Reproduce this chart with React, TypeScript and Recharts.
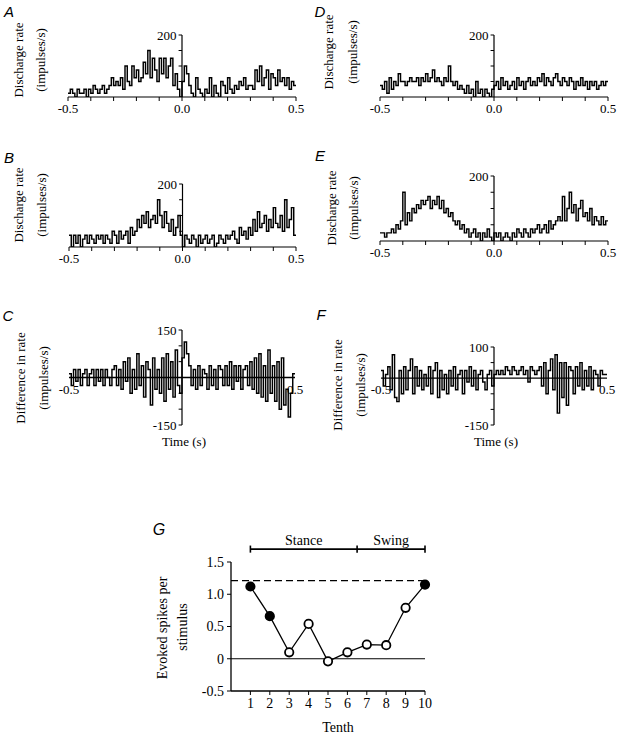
import React from "react";
import { LineChart, Line, XAxis, YAxis, ReferenceLine, ReferenceDot } from "recharts";

// 10 ms bins from -0.5 s to 0.5 s (bin start times)
const binStarts = Array.from({ length: 100 }, (_, i) => Math.round((-500 + i * 10)) / 1000);
const timeTicks = [-0.5, -0.4, -0.3, -0.2, -0.1, 0, 0.1, 0.2, 0.3, 0.4, 0.5];

// discharge rate (impulses/s), one value per bin
const rateA = [
  12, 25, 12, 0, 25, 12, 12, 25, 0, 25,
  12, 37, 25, 12, 25, 37, 12, 25, 37, 62,
  37, 50, 37, 62, 25, 100, 50, 37, 100, 62,
  87, 50, 62, 112, 75, 150, 62, 125, 87, 50,
  125, 75, 125, 62, 100, 125, 37, 75, 25, 0,
  50, 100, 75, 37, 12, 0, 62, 25, 12, 0,
  25, 12, 62, 0, 37, 12, 0, 50, 37, 12,
  62, 25, 12, 37, 25, 50, 37, 62, 25, 37,
  37, 25, 87, 50, 100, 37, 62, 87, 25, 75,
  62, 37, 87, 50, 62, 37, 62, 25, 50, 37,
];
const rateB = [
  37, 0, 37, 12, 37, 0, 25, 37, 12, 37,
  25, 12, 37, 25, 37, 12, 37, 25, 12, 50,
  37, 12, 50, 25, 37, 50, 12, 62, 37, 50,
  87, 62, 100, 75, 112, 62, 87, 100, 75, 150,
  100, 62, 112, 75, 50, 87, 37, 62, 100, 37,
  0, 37, 25, 12, 37, 25, 0, 37, 12, 25,
  37, 12, 25, 37, 0, 12, 37, 25, 12, 37,
  25, 37, 50, 25, 12, 62, 37, 50, 25, 62,
  37, 87, 50, 112, 62, 75, 100, 50, 87, 62,
  125, 75, 62, 100, 50, 150, 62, 87, 125, 37,
];
const rateD = [
  37, 25, 50, 12, 62, 25, 50, 37, 75, 50,
  50, 37, 50, 62, 50, 50, 62, 37, 62, 50,
  75, 50, 62, 87, 50, 62, 50, 37, 62, 50,
  100, 50, 37, 50, 25, 37, 25, 12, 37, 12,
  25, 0, 50, 12, 25, 0, 25, 12, 0, 25,
  37, 50, 25, 62, 37, 50, 25, 37, 50, 25,
  62, 37, 50, 25, 50, 62, 37, 50, 37, 62,
  50, 75, 37, 62, 50, 37, 62, 75, 50, 37,
  62, 50, 37, 62, 50, 25, 50, 37, 62, 37,
  50, 25, 50, 37, 50, 25, 37, 50, 37, 50,
];
const rateE = [
  25, 25, 12, 25, 25, 37, 25, 50, 37, 62,
  150, 50, 87, 62, 100, 87, 112, 100, 125, 112,
  125, 137, 100, 125, 112, 137, 100, 125, 87, 100,
  75, 87, 62, 50, 62, 37, 50, 25, 37, 12,
  25, 37, 12, 25, 0, 25, 12, 37, 12, 0,
  25, 12, 25, 0, 12, 25, 12, 0, 25, 12,
  37, 25, 12, 37, 25, 12, 37, 25, 37, 50,
  25, 37, 50, 25, 62, 37, 50, 62, 75, 62,
  137, 62, 100, 150, 87, 112, 62, 100, 125, 75,
  87, 62, 100, 50, 75, 62, 50, 75, 50, 62,
];
// difference in rate (impulses/s)
const diffC = [
  12, -25, 25, -12, 25, -25, 12, 25, -25, 12,
  25, -25, 25, -12, 25, -25, 25, 0, -25, 25,
  37, -25, 25, -37, 50, -12, 62, -50, 25, -37,
  75, -25, 37, -62, 50, 25, -87, 62, -37, 25,
  -50, 62, -75, 75, -37, 50, -62, 87, -25, -50,
  62, 112, 75, 37, -25, 25, -37, 37, -25, 25,
  12, -37, 37, -25, 25, -37, 37, 25, -25, 37,
  -25, 50, -37, 37, -12, 37, -37, 25, 37, -25,
  50, -37, 62, -50, 75, -62, 37, -75, 87, -50,
  37, -75, 50, -100, 62, -87, -37, -125, -50, 12,
];
const diffF = [
  25, -25, 12, 37, -37, 75, -62, -75, 25, -50,
  37, -37, 25, 62, -50, 37, -25, 25, -37, 12,
  -25, 37, -50, 25, 50, -62, 25, -37, 12, -50,
  25, -25, 37, -37, 12, 25, -50, 25, -12, 37,
  -25, 25, -37, 12, 25, -12, -37, 12, 25, -25,
  12, 25, 12, 25, 12, 37, 25, 12, 37, 25,
  12, 25, 37, 12, 25, -12, 37, 25, 12, 25,
  37, -25, 50, -50, 25, 62, -37, 75, -112, 50,
  -62, 50, -87, 37, 25, -50, 37, -25, 50, -37,
  25, -25, 37, -37, 25, 12, -25, 25, 12, 12,
];

// panel G
const tenths = [1, 2, 3, 4, 5, 6, 7, 8, 9, 10];
const evokedSpikes = [1.12, 0.66, 0.1, 0.54, -0.04, 0.1, 0.22, 0.21, 0.79, 1.15];
const significantTenths = [1, 2, 10];
const controlLevel = 1.21;
const phaseEdges = [1, 6.5, 10];
const phases = [
  { name: "Stance", mid: 3.75 },
  { name: "Swing", mid: 8.25 },
];

const SERIF = "'Liberation Serif', 'Times New Roman', serif";
const SANS = "'Liberation Sans', Arial, sans-serif";

const fmtTime = (v: number) => (v === -0.5 ? "-0.5" : v === 0 ? "0.0" : v === 0.5 ? "0.5" : "");

function Txt({ x, y, children, rotate, size = 13, italic, sans }: any) {
  return (
    <div
      style={{
        position: "absolute",
        left: x,
        top: y,
        transform: `translate(-50%, -50%)${rotate ? " rotate(-90deg)" : ""}`,
        whiteSpace: "nowrap",
        lineHeight: 1,
        fontSize: size,
        fontFamily: sans ? SANS : SERIF,
        fontStyle: italic ? "italic" : "normal",
        color: "#000",
      }}
    >
      {children}
    </div>
  );
}

type PanelProps = {
  values: number[];
  domain: [number, number];
  yTicks: number[];
  yLabels: number[];
  x0: number;
  plotW: number;
  yTop: number;
  plotH: number;
  diff?: boolean;
};

function Panel({ values, domain, yTicks, yLabels, x0, plotW, yTop, plotH, diff }: PanelProps) {
  const mL = 22, mR = 22, mT = 12, mB = diff ? 12 : 0, axH = diff ? 0 : 24;
  const data = binStarts.map((x, i) => ({ x, v: values[i] }));
  data.push({ x: 0.5, v: values[values.length - 1] });
  const lbl = { fontSize: 13, fontFamily: SERIF, fill: "#000" };
  return (
    <div style={{ position: "absolute", left: x0 - mL, top: yTop - mT }}>
      <LineChart width={plotW + mL + mR} height={plotH + mT + mB + axH} data={data} margin={{ top: mT, right: mR, bottom: mB, left: mL }}>
        <XAxis
          type="number"
          dataKey="x"
          domain={[-0.5, 0.5]}
          ticks={timeTicks}
          interval={0}
          tickFormatter={fmtTime}
          hide={diff}
          height={axH || 1}
          axisLine={{ stroke: "#000", strokeWidth: 1.2 }}
          tickLine={{ stroke: "#000", strokeWidth: 1 }}
          tickSize={4}
          tickMargin={3}
          tick={lbl}
          allowDataOverflow
        />
        <YAxis type="number" domain={domain} hide allowDataOverflow />
        {diff && <ReferenceLine y={0} stroke="#000" strokeWidth={1.3} />}
        <ReferenceLine segment={[{ x: 0, y: domain[0] }, { x: 0, y: domain[1] }]} stroke="#000" strokeWidth={1.2} />
        {yTicks.map((v) => (
          <ReferenceLine key={"t" + v} segment={[{ x: 0, y: v }, { x: -0.015, y: v }]} stroke="#000" strokeWidth={1} />
        ))}
        {yLabels.map((v) => (
          <ReferenceDot key={"l" + v} x={-0.015} y={v} r={0} fill="none" stroke="none" label={{ value: String(v), position: "left", offset: 2, ...lbl }} />
        ))}
        {diff &&
          [-0.5, 0.5].map((v) => (
            <ReferenceDot key={"e" + v} x={v} y={0} r={0} fill="none" stroke="none" label={{ value: v.toFixed(1), position: "bottom", offset: 7, ...lbl }} />
          ))}
        <Line type="stepAfter" dataKey="v" stroke="#000" strokeWidth={1.45} dot={false} isAnimationActive={false} />
      </LineChart>
    </div>
  );
}

function SpikeDot(props: any) {
  const { cx, cy, payload } = props;
  if (cx == null || cy == null) return null;
  const filled = significantTenths.includes(payload.t);
  return <circle cx={cx} cy={cy} r={4.2} fill={filled ? "#000" : "#fff"} stroke="#000" strokeWidth={1.8} />;
}

function PanelG() {
  const data = tenths.map((t, i) => ({ t, e: evokedSpikes[i] }));
  const yW = 42, mT = 34, mR = 12, axH = 26;
  const plotW = 194, plotH = 129;
  const lbl = { fontSize: 14, fontFamily: SERIF, fill: "#000" };
  return (
    <div style={{ position: "absolute", left: 231.3 - yW, top: 561.7 - mT }}>
      <LineChart width={yW + plotW + mR} height={mT + plotH + axH} data={data} margin={{ top: mT, right: mR, bottom: 0, left: 0 }}>
        <XAxis
          type="number"
          dataKey="t"
          domain={[0, 10]}
          ticks={tenths}
          interval={0}
          height={axH}
          axisLine={{ stroke: "#000", strokeWidth: 1.3 }}
          tickLine={{ stroke: "#000" }}
          tickSize={4}
          tickMargin={3}
          tick={lbl}
        />
        <YAxis
          type="number"
          domain={[-0.5, 1.5]}
          ticks={[-0.5, 0, 0.5, 1, 1.5]}
          interval={0}
          width={yW}
          tickFormatter={(v: number) => (v === 0 ? "0" : v.toFixed(1))}
          axisLine={{ stroke: "#000", strokeWidth: 1.3 }}
          tickLine={{ stroke: "#000" }}
          tickSize={4}
          tickMargin={3}
          tick={lbl}
        />
        <ReferenceLine y={0} stroke="#000" strokeWidth={1.2} />
        <ReferenceLine y={controlLevel} stroke="#000" strokeWidth={1.3} strokeDasharray="7 4" />
        <ReferenceLine segment={[{ x: phaseEdges[0], y: 1.7 }, { x: phaseEdges[2], y: 1.7 }]} stroke="#000" strokeWidth={1.6} ifOverflow="visible" />
        {phaseEdges.map((x) => (
          <ReferenceLine key={"p" + x} segment={[{ x, y: 1.645 }, { x, y: 1.755 }]} stroke="#000" strokeWidth={1.6} ifOverflow="visible" />
        ))}
        {phases.map((p) => (
          <ReferenceDot key={p.name} x={p.mid} y={1.7} r={0} fill="none" stroke="none" ifOverflow="visible" label={{ value: p.name, position: "top", offset: 4, ...lbl }} />
        ))}
        <Line type="linear" dataKey="e" stroke="#000" strokeWidth={1.3} dot={<SpikeDot />} activeDot={false} isAnimationActive={false} />
      </LineChart>
    </div>
  );
}

export default function App() {
  return (
    <div style={{ position: "absolute", left: 0, top: 0, width: 618, height: 735, background: "#fff", overflow: "hidden" }}>
      {/* A */}
      <Txt x={9} y={11} italic sans size={15}>A</Txt>
      <Txt x={18} y={60} rotate>Discharge rate</Txt>
      <Txt x={40} y={60} rotate>(impulses/s)</Txt>
      <Panel values={rateA} domain={[0, 200]} yTicks={[50, 100, 150, 200]} yLabels={[200]} x0={68} plotW={228} yTop={35} plotH={62} />
      {/* D */}
      <Txt x={320} y={11} italic sans size={15}>D</Txt>
      <Txt x={328} y={52} rotate>Discharge rate</Txt>
      <Txt x={352} y={52} rotate>(impulses/s)</Txt>
      <Panel values={rateD} domain={[0, 200]} yTicks={[50, 100, 150, 200]} yLabels={[200]} x0={380} plotW={228} yTop={35} plotH={62} />
      {/* B */}
      <Txt x={9} y={157} italic sans size={15}>B</Txt>
      <Txt x={18} y={205} rotate>Discharge rate</Txt>
      <Txt x={41} y={205} rotate>(impulses/s)</Txt>
      <Panel values={rateB} domain={[0, 200]} yTicks={[50, 100, 150, 200]} yLabels={[200]} x0={69} plotW={227} yTop={184} plotH={63} />
      {/* E */}
      <Txt x={320} y={155} italic sans size={15}>E</Txt>
      <Txt x={331} y={208} rotate>Discharge rate</Txt>
      <Txt x={353} y={208} rotate>(impulses/s)</Txt>
      <Panel values={rateE} domain={[0, 200]} yTicks={[50, 100, 150, 200]} yLabels={[200]} x0={380} plotW={228} yTop={176} plotH={65} />
      {/* C */}
      <Txt x={8} y={315} italic sans size={15}>C</Txt>
      <Txt x={20} y={378} rotate>Difference in rate</Txt>
      <Txt x={43} y={378} rotate>(impulses/s)</Txt>
      <Panel values={diffC} domain={[-150, 150]} yTicks={[-150, -100, -50, 50, 100, 150]} yLabels={[150, -150]} x0={69} plotW={226} yTop={330} plotH={95} diff />
      <Txt x={184} y={441}>Time (s)</Txt>
      {/* F */}
      <Txt x={321} y={314} italic sans size={15}>F</Txt>
      <Txt x={337} y={385} rotate>Difference in rate</Txt>
      <Txt x={360} y={385} rotate>(impulses/s)</Txt>
      <Panel values={diffF} domain={[-150, 100]} yTicks={[-150, -100, -50, 50, 100]} yLabels={[100, -150]} x0={381} plotW={226} yTop={347} plotH={78} diff />
      <Txt x={496} y={441}>Time (s)</Txt>
      {/* G */}
      <Txt x={159} y={530} italic sans size={16}>G</Txt>
      <Txt x={163} y={628} rotate size={14}>Evoked spikes per</Txt>
      <Txt x={183} y={627} rotate size={14}>stimulus</Txt>
      <PanelG />
      <Txt x={338} y={728} size={14}>Tenth</Txt>
    </div>
  );
}
